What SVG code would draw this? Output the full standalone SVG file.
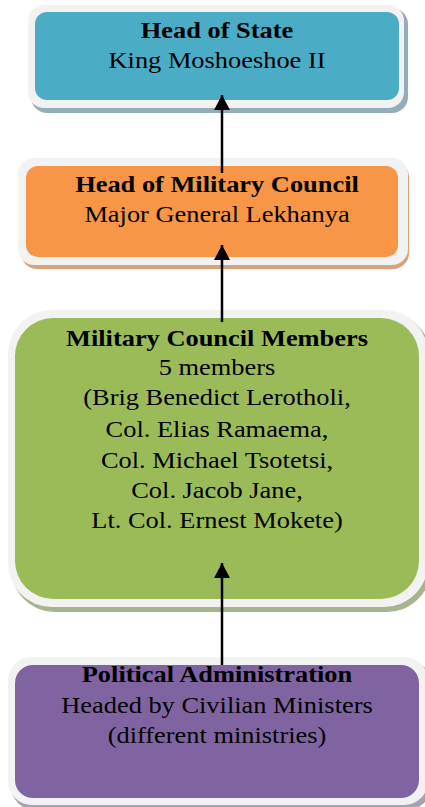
<svg xmlns="http://www.w3.org/2000/svg" width="425" height="807" viewBox="0 0 425 807">
<style>
.frame{fill:#F2F2F2;}
.t{font-family:"Liberation Serif","Times New Roman",serif;font-size:24px;fill:#000;text-anchor:middle;}
.b{font-weight:bold;}
.conn{stroke:#000;stroke-width:2.5;fill:none;}
</style>
<defs>
<marker id="ah" markerWidth="15" markerHeight="16" refX="15" refY="8" viewBox="0 0 15 16" markerUnits="userSpaceOnUse" orient="auto">
<path d="M0,0 L15,8 L0,16 Z" fill="#000"/>
</marker>
</defs>
<rect width="425" height="807" fill="#fff"/>

<g id="head-of-state">
<rect x="31" y="8" width="377" height="105" rx="16" fill="#93AEB8"/>
<rect x="28" y="5" width="376" height="103" rx="16" class="frame"/>
<rect x="35" y="12" width="364" height="88" rx="12" fill="#4BACC6"/>
<g transform="translate(217 0) scale(1.1 1)">
<text class="t b" x="0" y="38">Head of State</text>
<text class="t" x="0" y="68">King Moshoeshoe II</text>
</g>
</g>

<g id="head-of-military-council">
<rect x="21" y="161" width="388" height="108" rx="16" fill="#D9A27A"/>
<rect x="18" y="158" width="390" height="107" rx="16" class="frame"/>
<rect x="26" y="166" width="372" height="91" rx="12" fill="#F79646"/>
<g transform="translate(217 0) scale(1.1 1)">
<text class="t b" x="0" y="192">Head of Military Council</text>
<text class="t" x="0" y="222">Major General Lekhanya</text>
</g>
</g>

<g id="military-council-members">
<rect x="11" y="313" width="420" height="299" rx="44" fill="#A7B48E"/>
<rect x="8" y="310" width="420" height="297" rx="44" class="frame"/>
<rect x="15" y="318" width="404" height="281" rx="38" fill="#9BBB59"/>
<g transform="translate(217 0) scale(1.1 1)">
<text class="t b" x="0" y="346">Military Council Members</text>
<text class="t" x="0" y="375">5 members</text>
<text class="t" x="0" y="405">(Brig Benedict Lerotholi,</text>
<text class="t" x="0" y="437">Col. Elias Ramaema,</text>
<text class="t" x="0" y="468">Col. Michael Tsotetsi,</text>
<text class="t" x="0" y="498">Col. Jacob Jane,</text>
<text class="t" x="0" y="528">Lt. Col. Ernest Mokete)</text>
</g>
</g>

<g id="political-administration">
<rect x="11" y="660" width="420" height="150" rx="24" fill="#A3A3B3"/>
<rect x="8" y="657" width="420" height="148" rx="24" class="frame"/>
<rect x="15" y="665" width="404" height="133" rx="18" fill="#8064A2"/>
<g transform="translate(217 0) scale(1.1 1)">
<text class="t b" x="0" y="682">Political Administration</text>
<text class="t" x="0" y="713">Headed by Civilian Ministers</text>
<text class="t" x="0" y="743">(different ministries)</text>
</g>
</g>

<g id="connectors">
<line class="conn" x1="222" y1="173" x2="222" y2="95" marker-end="url(#ah)"/>
<line class="conn" x1="222" y1="322" x2="222" y2="245" marker-end="url(#ah)"/>
<line class="conn" x1="222" y1="665" x2="222" y2="563" marker-end="url(#ah)"/>
</g>
</svg>
